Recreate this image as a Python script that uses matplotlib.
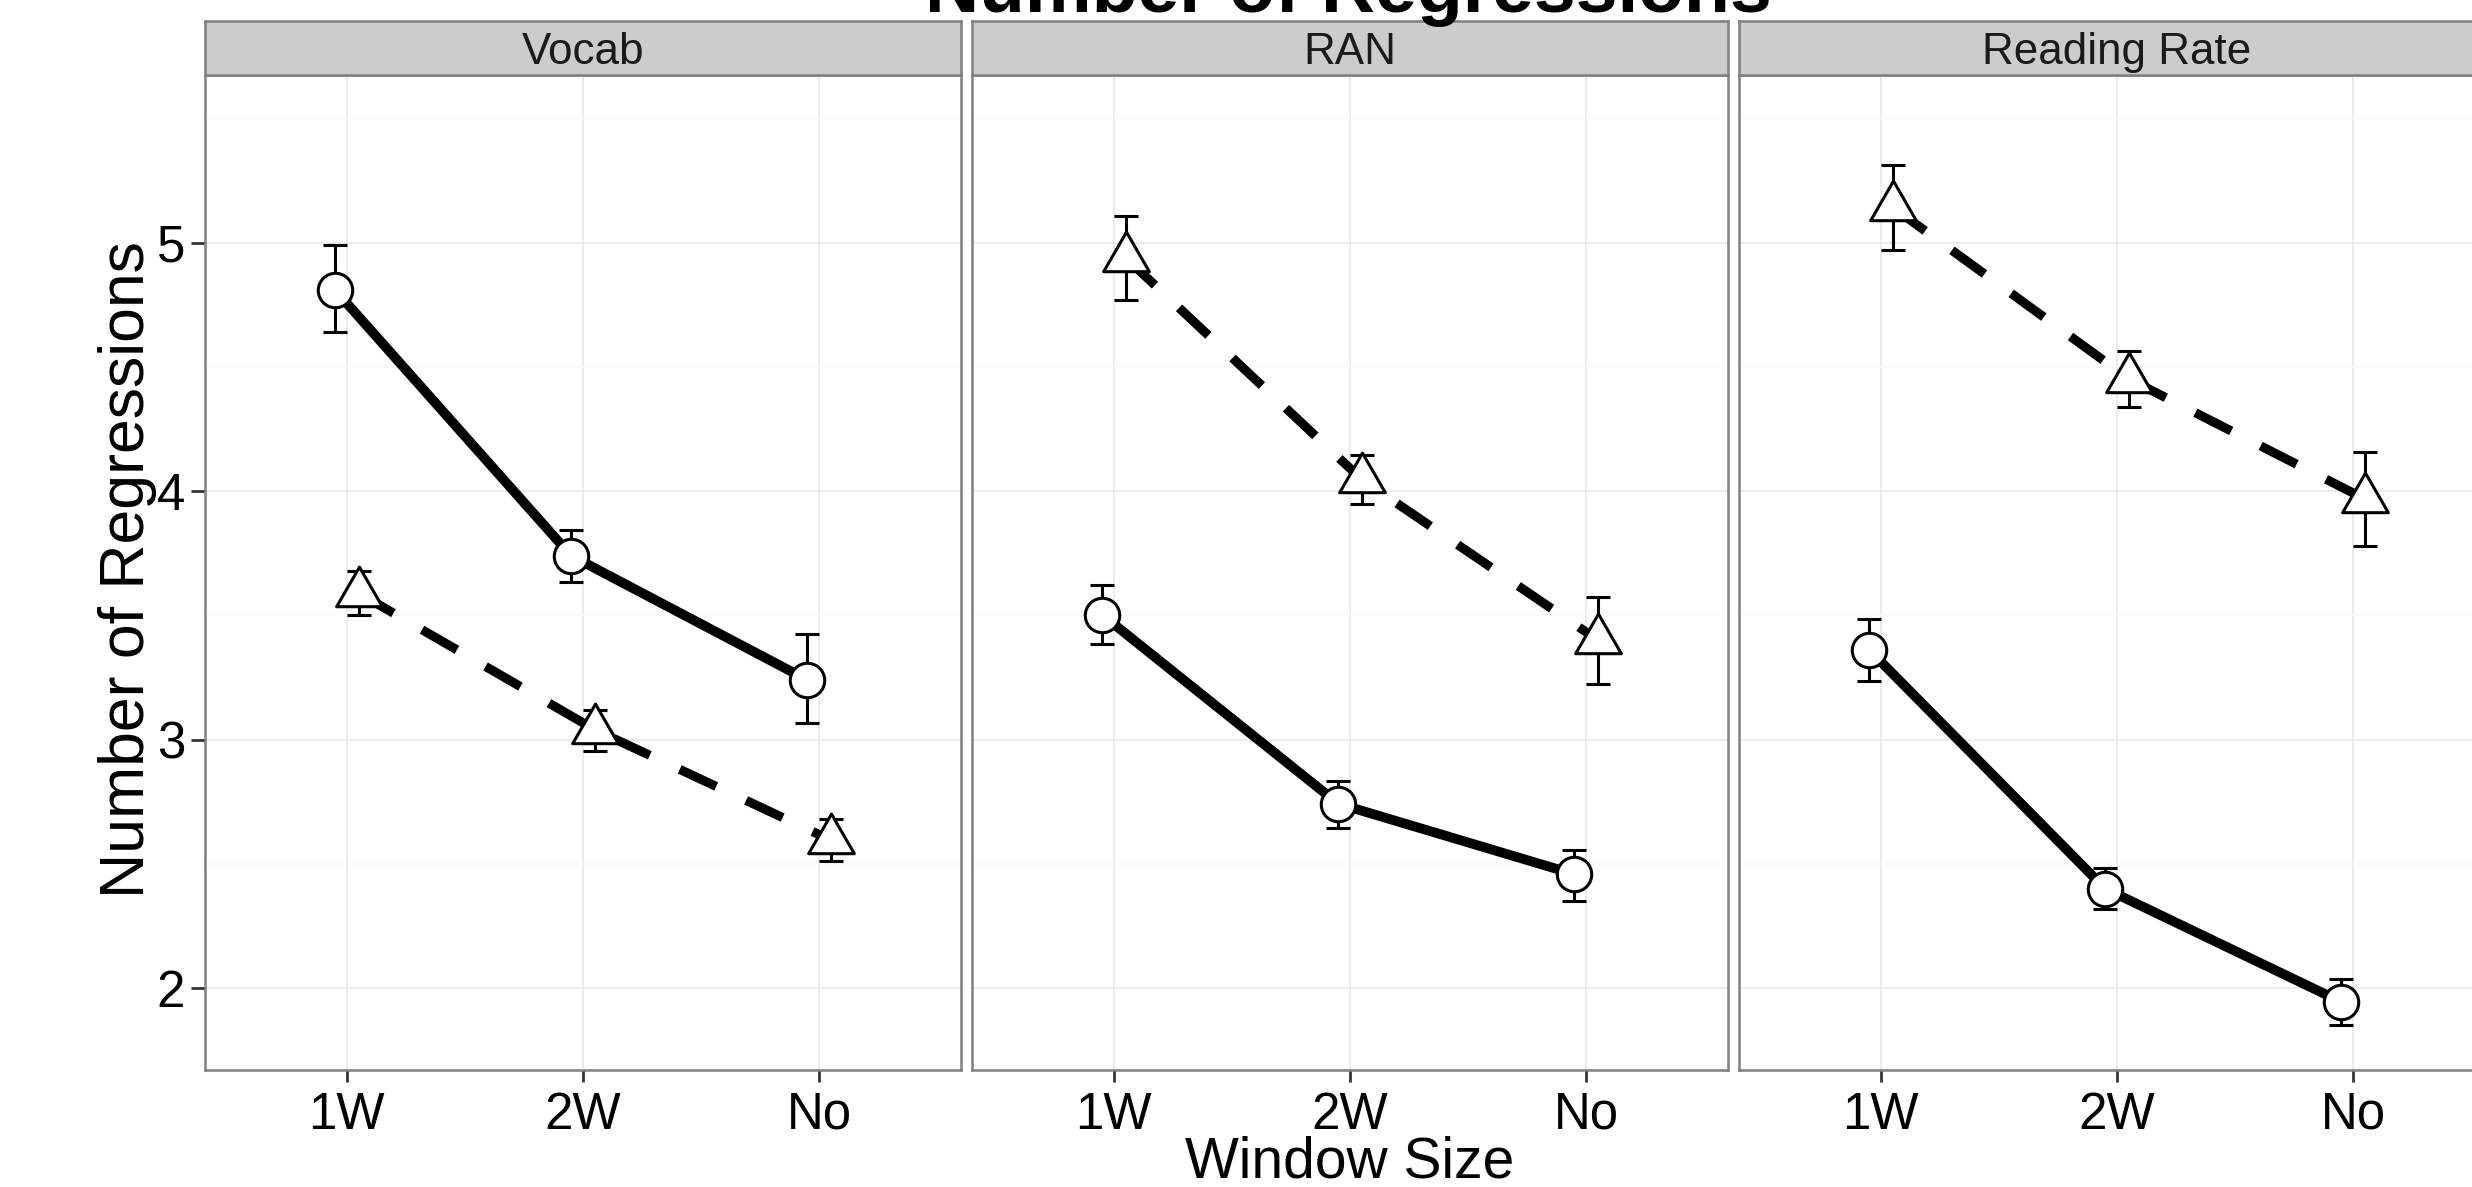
import matplotlib
matplotlib.use("Agg")
import matplotlib.pyplot as plt
from matplotlib.path import Path
import numpy as np

plt.rcParams['font.family'] = ['Liberation Sans', 'DejaVu Sans']

# ---------------- data ----------------
panel_names = ["Vocab", "RAN", "Reading Rate"]
window_sizes = ["1W", "2W", "No"]

# circles, solid line
vocab_circle_mean = [4.81, 3.74, 3.24]
vocab_circle_lo = [4.64, 3.635, 3.065]
vocab_circle_hi = [4.99, 3.845, 3.425]
# triangles, dashed line
vocab_tri_mean = [3.59, 3.04, 2.595]
vocab_tri_lo = [3.50, 2.955, 2.51]
vocab_tri_hi = [3.68, 3.12, 2.68]

ran_circle_mean = [3.503, 2.742, 2.458]
ran_circle_lo = [3.384, 2.645, 2.352]
ran_circle_hi = [3.624, 2.834, 2.557]
ran_tri_mean = [4.94, 4.047, 3.40]
ran_tri_lo = [4.77, 3.95, 3.224]
ran_tri_hi = [5.107, 4.145, 3.572]

rate_circle_mean = [3.362, 2.40, 1.944]
rate_circle_lo = [3.235, 2.318, 1.852]
rate_circle_hi = [3.486, 2.483, 2.038]
rate_tri_mean = [5.143, 4.452, 3.968]
rate_tri_lo = [4.971, 4.338, 3.778]
rate_tri_hi = [5.312, 4.566, 4.158]

y_ticks = [2, 3, 4, 5]
y_minor = [2.5, 3.5, 4.5, 5.5]

circle_series = [
    (vocab_circle_mean, vocab_circle_lo, vocab_circle_hi),
    (ran_circle_mean, ran_circle_lo, ran_circle_hi),
    (rate_circle_mean, rate_circle_lo, rate_circle_hi),
]
tri_series = [
    (vocab_tri_mean, vocab_tri_lo, vocab_tri_hi),
    (ran_tri_mean, ran_tri_lo, ran_tri_hi),
    (rate_tri_mean, rate_tri_lo, rate_tri_hi),
]

# ---------------- layout ----------------
W, H = 2472, 1187
fig = plt.figure(figsize=(W / 100, H / 100), dpi=100)
fig.patch.set_facecolor("white")

panel_lefts = [205, 972, 1739]
panel_w = 756
panel_top, panel_bottom = 75, 1070
strip_top = 20.7

# equilateral triangle with centroid at the data point
tri_marker = Path([(0, 2 / 3), (0.57735, -1 / 3), (-0.57735, -1 / 3), (0, 2 / 3)],
                  [Path.MOVETO, Path.LINETO, Path.LINETO, Path.CLOSEPOLY])

GRID_MAJ = "#E5E5E5"
GRID_MIN = "#FAFAFA"
BORDER = "#7F7F7F"
DODGE = 0.05

x_base = np.arange(1, len(window_sizes) + 1)

for i, name in enumerate(panel_names):
    left = panel_lefts[i]
    ax = fig.add_axes([left / W, 1 - panel_bottom / H, panel_w / W,
                       (panel_bottom - panel_top) / H])
    ax.set_xticks(x_base)
    ax.set_xticklabels(window_sizes)
    ax.set_yticks(y_ticks)
    ax.set_yticks(y_minor, minor=True)
    ax.set_yticklabels([str(v) for v in y_ticks])
    ax.grid(which="major", color=GRID_MAJ, lw=1.1, zorder=0)
    ax.grid(which="minor", axis="y", color=GRID_MIN, lw=1.1, zorder=0)
    ax.set_axisbelow(True)
    for sp in ax.spines.values():
        sp.set_color(BORDER)
        sp.set_linewidth(1.8)
    ax.tick_params(axis="x", length=8.6, width=2.0, color="#333333",
                   labelsize=36.7, pad=6.5, labelcolor="black")
    ax.tick_params(axis="y", which="minor", left=False)
    if i == 0:
        ax.tick_params(axis="y", which="major", length=10, width=2.0, color="#333333",
                       labelsize=36.7, pad=4.3, labelcolor="black")
    else:
        ax.tick_params(axis="y", which="major", left=False, labelleft=False)

    cm, clo, chi = circle_series[i]
    tm, tlo, thi = tri_series[i]
    cm, clo, chi = np.array(cm), np.array(clo), np.array(chi)
    tm, tlo, thi = np.array(tm), np.array(tlo), np.array(thi)
    xc = x_base - DODGE
    xt = x_base + DODGE

    # error bars
    ax.errorbar(xc, cm, yerr=[cm - clo, chi - cm], fmt="none", ecolor="black",
                elinewidth=2.2, capsize=8.6, capthick=2.2, zorder=2)
    ax.errorbar(xt, tm, yerr=[tm - tlo, thi - tm], fmt="none", ecolor="black",
                elinewidth=2.2, capsize=8.6, capthick=2.2, zorder=2)
    # lines
    ax.plot(xc, cm, color="black", lw=7.0, solid_capstyle="butt",
            solid_joinstyle="round", zorder=3)
    ax.plot(xt, tm, color="black", lw=6.6, dashes=(4.4, 3.6),
            dash_capstyle="butt", zorder=3)
    # points
    ax.plot(xc, cm, ls="none", marker="o", ms=24.8, mfc="white", mec="black",
            mew=2.2, zorder=4)
    ax.plot(xt, tm, ls="none", marker=tri_marker, ms=38.0, mfc="white",
            mec="black", mew=2.2, zorder=4)

    # limits set last so ticks cannot widen them
    ax.set_xlim(0.4, 3.6)
    ax.set_ylim(1.67, 5.675)

    # facet strip
    sax = fig.add_axes([left / W, 1 - panel_top / H, panel_w / W,
                        (panel_top - strip_top) / H])
    sax.set_facecolor("#CCCCCC")
    sax.set_xticks([])
    sax.set_yticks([])
    for sp in sax.spines.values():
        sp.set_color(BORDER)
        sp.set_linewidth(1.8)
    sax.text(0.5, 0.5, name, ha="center", va="center_baseline",
             fontsize=31.7, color="#1A1A1A", transform=sax.transAxes)

# title (partly cut off at the top, as in the reference)
fig.text(1348 / W, 1 - 11.7 / H, "Number of Regressions", ha="center",
         va="baseline", fontsize=54, fontweight="bold", color="black")
# axis titles
fig.text(1350 / W, 1 - 1177 / H, "Window Size", ha="center", va="baseline",
         fontsize=41, color="black")
fig.text(98 / W, 1 - 570 / H, "Number of Regressions", rotation=90,
         ha="left", va="center", fontsize=45, color="black")

fig.savefig("out.png", dpi=100, facecolor="white")
